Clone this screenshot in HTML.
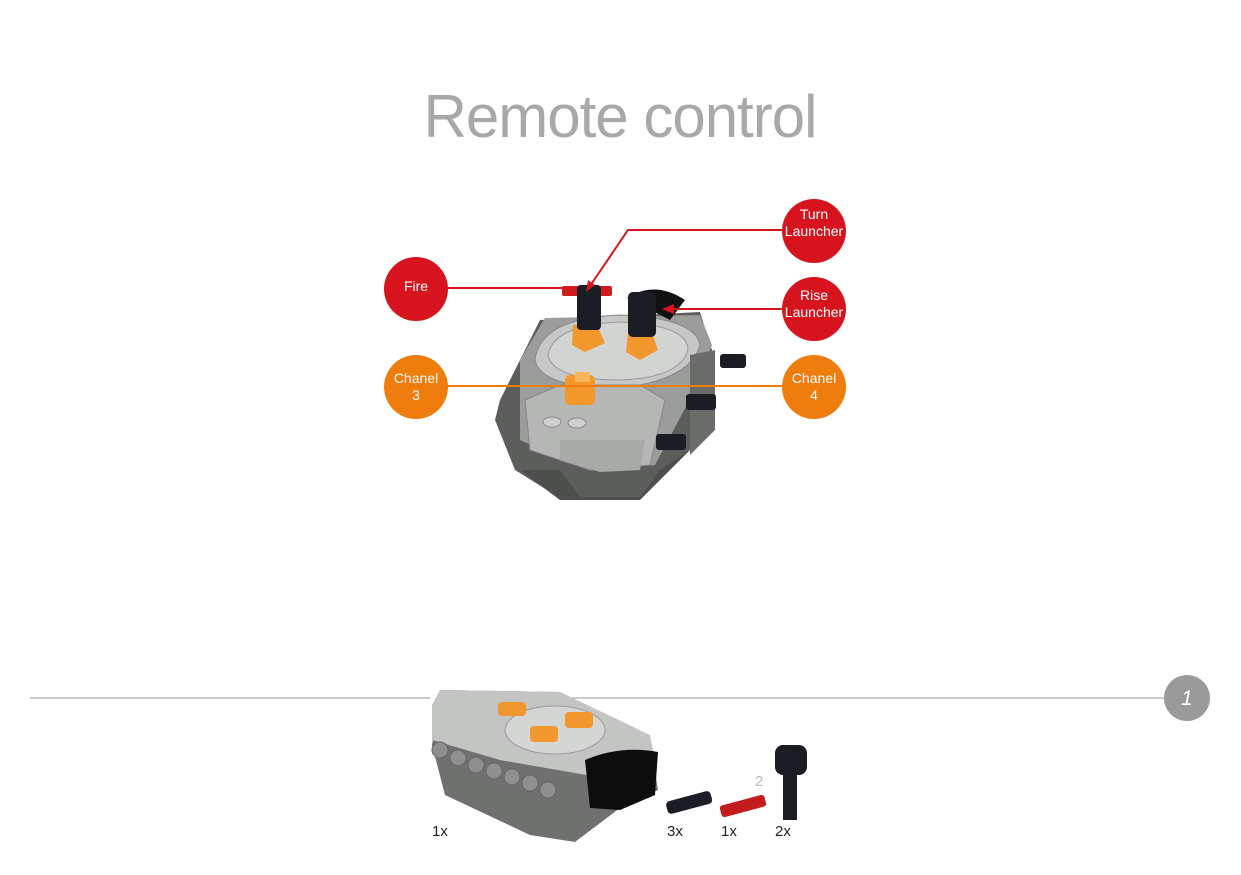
<!DOCTYPE html>
<html><head><meta charset="utf-8"><style>
html,body{margin:0;padding:0;background:#fff;}
body{width:1241px;height:875px;overflow:hidden;position:relative;font-family:"Liberation Sans",sans-serif;}
</style></head><body>
<svg width="1241" height="875" viewBox="0 0 1241 875" xmlns="http://www.w3.org/2000/svg" style="position:absolute;left:0;top:0">
<text x="620" y="137" text-anchor="middle" font-family="Liberation Sans, sans-serif" font-size="60" fill="#a8a8a8" letter-spacing="-1">Remote control</text>

<!-- main remote -->
<g>
<path d="M500 400 L540 320 L700 312 L712 350 L690 450 L640 498 L560 498 L515 470 L495 420 Z" fill="#5c5e5c"/>
<path d="M520 360 L545 318 L700 315 L712 345 L700 380 L655 465 L590 470 L520 440 Z" fill="#9b9d9b"/>
<path d="M535 360 Q540 318 620 315 Q695 318 700 345 Q690 380 620 388 Q540 388 535 360Z" fill="#c6c8c6" stroke="#888" stroke-width="1"/>
<path d="M548 356 Q552 325 620 322 Q688 325 688 350 Q680 378 620 380 Q555 380 548 356Z" fill="#d2d4d2" stroke="#999"/>
<path d="M525 400 L560 385 L640 385 L665 400 L650 465 L590 470 L530 450Z" fill="#b5b7b5" stroke="#888"/>
<path d="M560 440 L645 440 L640 470 L600 472 L560 460Z" fill="#a8aaa8"/>
<path d="M520 470 L560 470 L580 497 L640 497 L660 470 L690 450 L640 500 L560 500Z" fill="#4d4f4d"/>
<ellipse cx="552" cy="422" rx="9" ry="5" fill="#cfd1cf" stroke="#888"/>
<ellipse cx="577" cy="423" rx="9" ry="5" fill="#cfd1cf" stroke="#888"/>
<path d="M690 355 L715 350 L715 430 L690 455Z" fill="#6a6c6a"/>
<rect x="565" y="375" width="30" height="30" rx="5" fill="#f2972c"/>
<rect x="575" y="372" width="15" height="10" fill="#f9b55a"/>
<polygon points="573,325 597,325 605,343 585,352 572,345" fill="#f2972c"/>
<polygon points="628,333 652,333 658,350 640,360 626,352" fill="#f2972c"/>
<path d="M627 298 Q655 280 685 300 L670 320 Z" fill="#111"/>
<rect x="577" y="285" width="24" height="45" rx="4" fill="#1a1d24"/>
<rect x="628" y="292" width="28" height="45" rx="5" fill="#1a1d24"/>
<rect x="562" y="286" width="50" height="10" rx="2" fill="#d01c1c"/>
<rect x="577" y="285" width="24" height="22" rx="4" fill="#1a1d24"/>
<g fill="#1a1d24">
<rect x="720" y="354" width="26" height="14" rx="3"/>
<rect x="686" y="394" width="30" height="16" rx="3"/>
<rect x="656" y="434" width="30" height="16" rx="3"/>
</g>
</g>

<!-- connectors -->
<line x1="447" y1="288" x2="570" y2="288" stroke="#d7141d" stroke-width="2"/>
<polyline points="782,230 628,230 590,286" fill="none" stroke="#d7141d" stroke-width="2"/>
<polygon points="586,292 588,280 595,285" fill="#d7141d"/>
<line x1="782" y1="309" x2="670" y2="309" stroke="#d7141d" stroke-width="2"/>
<polygon points="662,309 674,304 674,314" fill="#d7141d"/>
<line x1="447" y1="386" x2="782" y2="386" stroke="#ef7d0e" stroke-width="2"/>

<g font-family="Liberation Sans, sans-serif" font-size="14" fill="#fff" text-anchor="middle">
<circle cx="416" cy="289" r="32" fill="#d7141d"/><text x="416" y="291">Fire</text>
<circle cx="814" cy="231" r="32" fill="#d7141d"/><text x="814" y="219">Turn</text><text x="814" y="236">Launcher</text>
<circle cx="814" cy="309" r="32" fill="#d7141d"/><text x="814" y="300">Rise</text><text x="814" y="317">Launcher</text>
<circle cx="416" cy="387" r="32" fill="#ef7d0e"/><text x="416" y="383">Chanel</text><text x="416" y="400">3</text>
<circle cx="814" cy="387" r="32" fill="#ef7d0e"/><text x="814" y="383">Chanel</text><text x="814" y="400">4</text>
</g>

<!-- bottom rule -->
<line x1="30" y1="698" x2="430" y2="698" stroke="#999" stroke-width="1"/>
<line x1="572" y1="698" x2="1165" y2="698" stroke="#999" stroke-width="1"/>
<circle cx="1187" cy="698" r="23" fill="#9a9a9a"/>
<text x="1187" y="705" text-anchor="middle" font-family="Liberation Sans, sans-serif" font-size="21" font-style="italic" fill="#fff">1</text>

<!-- bottom remote -->
<path d="M440 690 L560 692 L650 740 L658 790 L620 808 L575 842 L530 835 L445 795 L432 745 Z" fill="#6f716f"/>
<path d="M440 690 L560 692 L650 735 L655 760 L615 780 L500 760 L432 740 L432 705Z" fill="#c3c5c3"/>
<ellipse cx="555" cy="730" rx="50" ry="24" fill="#d4d6d4" stroke="#999"/>
<rect x="498" y="702" width="28" height="14" rx="4" fill="#f2972c"/>
<rect x="565" y="712" width="28" height="16" rx="4" fill="#f2972c"/>
<rect x="530" y="726" width="28" height="16" rx="4" fill="#f2972c"/>
<path d="M585 760 Q620 745 658 752 L655 795 L620 810 L590 808Z" fill="#0d0d0d"/>
<g fill="#8e908e" stroke="#666">
<circle cx="440" cy="750" r="8"/><circle cx="458" cy="758" r="8"/><circle cx="476" cy="765" r="8"/><circle cx="494" cy="771" r="8"/><circle cx="512" cy="777" r="8"/><circle cx="530" cy="783" r="8"/><circle cx="548" cy="790" r="8"/>
</g>
<rect x="666" y="796" width="46" height="13" rx="4" fill="#1a1d24" transform="rotate(-15 689 802)"/>
<rect x="720" y="800" width="46" height="12" rx="3" fill="#c41c1c" transform="rotate(-15 743 806)"/>
<rect x="775" y="745" width="32" height="30" rx="8" fill="#1a1d24"/>
<rect x="783" y="770" width="14" height="50" fill="#1a1d24"/>
<g font-family="Liberation Sans, sans-serif" font-size="15" fill="#222">
<text x="432" y="836">1x</text><text x="667" y="836">3x</text><text x="721" y="836">1x</text><text x="775" y="836">2x</text>
</g>
<text x="755" y="786" font-family="Liberation Sans, sans-serif" font-size="15" fill="#bbb">2</text>
</svg>
</body></html>
